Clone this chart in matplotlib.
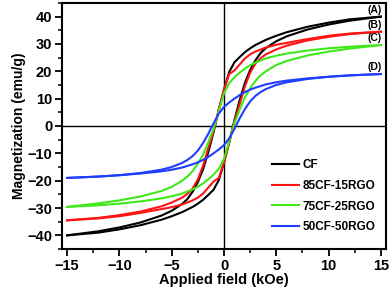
import numpy as np
import matplotlib
matplotlib.use("Agg")
import matplotlib.pyplot as plt
from matplotlib.ticker import MultipleLocator

plt.rcParams['font.family'] = ['Liberation Sans', 'DejaVu Sans']
plt.rcParams['font.weight'] = 'bold'

# Applied field values (kOe) for the descending branch
field = [15, 12, 10, 8, 6, 5, 4, 3, 2.5, 2, 1.5, 1, 0.5, 0, -0.5, -1, -1.5, -2,
         -2.5, -3, -3.5, -4, -5, -6, -8, -10, -12, -15]

# Magnetization (emu/g) on the descending branch
m_cf = [40.0, 39.0, 37.8, 36.3, 34.3, 33.0, 31.5, 29.6, 28.4, 27.0, 25.2, 23.3, 19.8, 13.3,
        6.0, -2.2, -9.5, -15.8, -20.5, -24.0, -26.7, -28.5, -31.0, -32.8, -35.3, -37.1, -38.5, -40.0]
m_85 = [34.5, 33.8, 33.0, 31.8, 30.4, 29.7, 28.7, 27.2, 26.2, 24.7, 22.5, 20.3, 19.0, 13.3,
        6.0, -1.8, -8.0, -14.5, -19.5, -22.8, -24.8, -26.2, -28.0, -29.4, -31.3, -32.6, -33.6, -34.5]
m_75 = [29.6, 29.0, 28.4, 27.6, 26.5, 25.7, 24.7, 23.2, 22.2, 21.0, 19.5, 17.8, 15.7, 12.0,
        5.5, -1.0, -6.0, -10.5, -13.8, -16.5, -18.5, -20.0, -22.3, -23.8, -25.8, -27.2, -28.3, -29.6]
m_50 = [19.0, 18.5, 18.0, 17.4, 16.6, 16.0, 15.2, 14.0, 13.3, 12.4, 11.3, 10.0, 8.6, 7.0,
        4.5, 1.0, -2.8, -6.2, -9.0, -11.0, -12.4, -13.5, -15.0, -16.0, -17.2, -18.0, -18.5, -19.0]

labels = ['CF', '85CF-15RGO', '75CF-25RGO', '50CF-50RGO']
tags = ['(A)', '(B)', '(C)', '(D)']
colors = ['#000000', '#ff1414', '#3fe81a', '#1f3dff']
series = [m_cf, m_85, m_75, m_50]

fig = plt.figure(figsize=(3.92, 2.94), dpi=100)
ax = fig.add_axes([0.158, 0.153, 0.827, 0.837])

ax.axhline(0, color='black', lw=1.0, zorder=1)
ax.axvline(0, color='black', lw=1.0, zorder=1)

H = np.array(field, dtype=float)
for m, lab, c in zip(series, labels, colors):
    m = np.array(m, dtype=float)
    # descending branch
    ax.plot(H, m, color=c, lw=1.5, label=lab, zorder=3)
    # ascending branch (symmetric loop)
    ax.plot(-H, -m, color=c, lw=1.5, zorder=3)

tag_y = [42.5, 37.0, 32.0, 21.4]
for t, ty in zip(tags, tag_y):
    ax.text(15.1, ty, t, fontsize=7.5, fontweight='bold', ha='right', va='center')

ax.set_xlim(-15.5, 15.5)
ax.set_ylim(-45, 45)
ax.xaxis.set_major_locator(MultipleLocator(5))
ax.xaxis.set_minor_locator(MultipleLocator(2.5))
ax.yaxis.set_major_locator(MultipleLocator(10))
ax.yaxis.set_minor_locator(MultipleLocator(5))
ax.tick_params(which='major', direction='out', length=5, width=1.3, labelsize=10.5, pad=2)
ax.tick_params(which='minor', direction='out', length=3, width=1.1)
for lbl in ax.get_xticklabels() + ax.get_yticklabels():
    lbl.set_fontweight('bold')
for s in ax.spines.values():
    s.set_linewidth(1.5)

ax.set_xlabel('Applied field (kOe)', fontsize=10.5, fontweight='bold', labelpad=0)
ax.set_ylabel('Magnetization (emu/g)', fontsize=10, fontweight='bold', labelpad=1)

leg = ax.legend(loc='lower right', frameon=False, fontsize=8.5, handlelength=2.3,
                handletextpad=0.3, labelspacing=0.75, bbox_to_anchor=(1.0, 0.02))
for t in leg.get_texts():
    t.set_fontweight('bold')

fig.savefig('out.png', dpi=100)
